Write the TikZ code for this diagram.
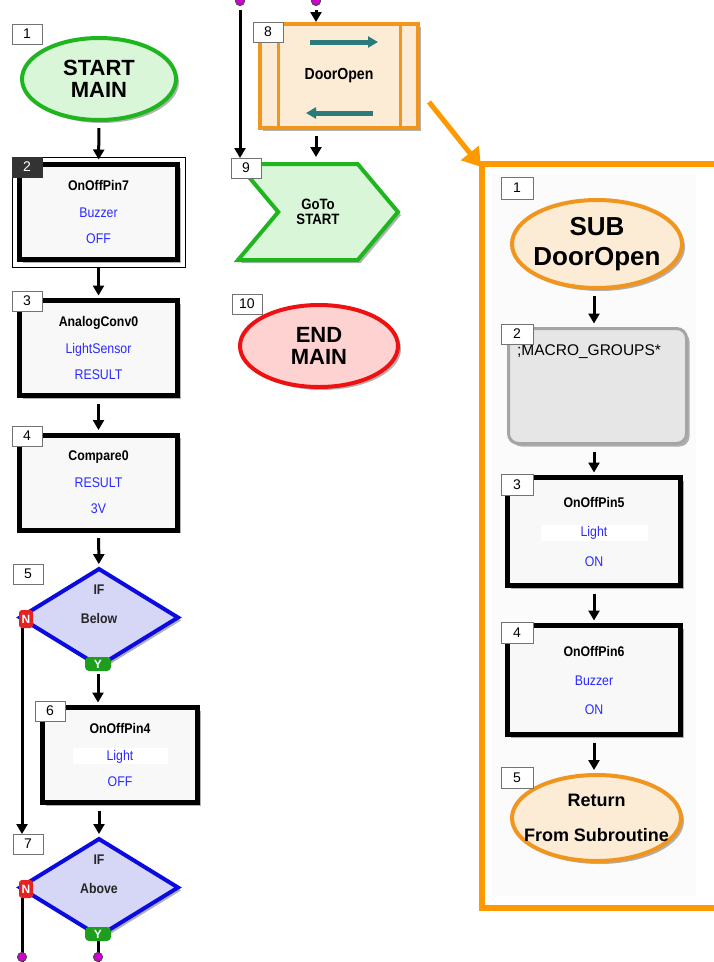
\documentclass[tikz,border=0pt]{standalone}
\usepackage{fontspec}
\setmainfont{Liberation Sans}
\newfontfamily\narrowsf[FakeStretch=0.88]{Liberation Sans}
\usetikzlibrary{shapes.geometric,shapes.symbols,arrows.meta,shadows}

\definecolor{startgreen}{HTML}{1FB51F}
\definecolor{startfill}{HTML}{D9F6D9}
\definecolor{endred}{HTML}{EE1111}
\definecolor{endfill}{HTML}{FFD2D2}
\definecolor{subline}{HTML}{F0951E}
\definecolor{subfill}{HTML}{FCEBD5}
\definecolor{ifblue}{HTML}{0B0BE0}
\definecolor{iffill}{HTML}{D6D6F7}
\definecolor{pinblue}{HTML}{2A2AFF}
\definecolor{boxfill}{HTML}{F8F8F8}
\definecolor{macfill}{HTML}{E6E6E6}
\definecolor{macline}{HTML}{A5A5A5}
\definecolor{linkorange}{HTML}{FF9900}
\definecolor{arrowteal}{HTML}{2C7B7B}
\definecolor{nred}{HTML}{E52222}
\definecolor{ygreen}{HTML}{1E9E1E}
\definecolor{dotpink}{HTML}{D000D0}

\newcommand{\fsz}[2]{\fontsize{#1}{#2}\selectfont}
\newcommand{\litband}[1]{{\setlength{\fboxsep}{1.5pt}\colorbox{white}{\makebox[#1]{\textcolor{pinblue}{Light}}}}}

\begin{document}
\begin{tikzpicture}
	[x=1pt,y=-1pt,
	 every node/.style={inner sep=0pt,outer sep=0pt},
	 shade/.style={drop shadow={shadow xshift=3pt,shadow yshift=-3pt,opacity=0.3,fill=black}},
	 numlab/.style={draw=black!55,fill=white,minimum width=30,minimum height=20,font=\fsz{14}{14}},
	 sellab/.style={numlab,draw=black!80,fill=black!80,text=white},
	 terminal/.style={ellipse,line width=4pt,shade},
	 termtext/.style={align=center,font=\bfseries\fsz{22}{22}},
	 cmdbox/.style={draw=black,line width=5pt,fill=boxfill,shade,minimum width=158,minimum height=95,
	                align=center,font=\narrowsf\fsz{14}{26.5}},
	 ifnode/.style={diamond,draw=ifblue,line width=4pt,fill=iffill,shade,minimum width=158,minimum height=97},
	 iftext/.style={align=center,font=\narrowsf\bfseries\fsz{14}{29},text=black!85},
	 nmark/.style={fill=nred,rounded corners=3pt,minimum width=14,minimum height=18,text=white,font=\bfseries\fsz{12}{12}},
	 ymark/.style={fill=ygreen,rounded corners=4pt,minimum width=26,minimum height=14,text=white,font=\bfseries\fsz{12}{12}},
	 pindot/.style={circle,fill=dotpink,draw=black!70,line width=0.8pt,minimum size=9},
	 flow/.style={black,line width=3pt,-{Triangle[width=11pt,length=10pt]},shorten <=8pt,shorten >=5pt},
	 sublink/.style={linkorange,line width=5pt,-{Triangle[width=22pt,length=18pt]}},
	 ]

\useasboundingbox (0,0) rectangle (714,962);

% main program, left column
\node [terminal,draw=startgreen,fill=startfill,minimum width=154,minimum height=82] (start1) at (99,79) {};
\node [termtext] (start1txt) at (start1) {START\\MAIN};
\node [numlab] (lab1) at (27,34) {1};

\node [cmdbox] (cmd2) at (98.5,212) {\textbf{OnOffPin7}\\\textcolor{pinblue}{Buzzer}\\\textcolor{pinblue}{OFF}};
\draw [black,line width=1pt] ([shift={(-7,-7)}]cmd2.north west) rectangle ([shift={(8,8)}]cmd2.south east);
\node [sellab] (lab2) at (27,167) {2};

\node [cmdbox] (cmd3) at (98.5,348) {\textbf{AnalogConv0}\\\textcolor{pinblue}{LightSensor}\\\textcolor{pinblue}{RESULT}};
\node [numlab] (lab3) at (27,301) {3};

\node [cmdbox] (cmd4) at (98.5,482.5) {\textbf{Compare0}\\\textcolor{pinblue}{RESULT}\\\textcolor{pinblue}{3V}};
\node [numlab] (lab4) at (27,436) {4};

\node [ifnode] (if5) at (99,617.5) {};
\node [iftext] (if5txt) at (99,604.5) {IF\\Below};
\node [numlab] (lab5) at (28,574) {5};
\node [nmark] (n5) at (26,619) {N};
\node [ymark] (y5) at (98,664) {Y};

\node [cmdbox,minimum width=155] (cmd6) at (120,755) {\textbf{OnOffPin4}\\\litband{92pt}\\\textcolor{pinblue}{OFF}};
\node [numlab] (lab6) at (50,711) {6};

\node [ifnode] (if7) at (99,887.5) {};
\node [iftext] (if7txt) at (99,874.5) {IF\\Above};
\node [numlab] (lab7) at (28,844) {7};
\node [nmark] (n7) at (26,889) {N};
\node [ymark] (y7) at (98,934) {Y};

\draw[flow] (start1) -- (cmd2);
\draw[flow] (cmd2) -- (cmd3);
\draw[flow] (cmd3) -- (cmd4);
\draw[flow] (cmd4) -- (if5);
\draw[flow,shorten <=3pt] (y5) -- (cmd6.north -| y5);
\draw[flow] (cmd6.south -| if7) -- (if7);
\draw[flow,shorten <=0pt,shorten >=0pt] ([xshift=-4]n5.south) -- ([xshift=-4]n5.south |- lab7.north);

\node [pindot] (dotn7) at (22,957) {};
\node [pindot] (doty7) at (98,957) {};
\draw[black,line width=3pt] ([xshift=-4]n7.south) -- (22,966);
\draw[black,line width=3pt] (y7.south) -- (98,966);
\node [pindot] at (dotn7) {};
\node [pindot] at (doty7) {};

% main program, second column
\node [pindot] (dottop9) at (240,1) {};
\node [pindot] (dottop8) at (316,1) {};

\node [draw=subline,line width=4pt,fill=subfill,shade,minimum width=158,minimum height=104,
       font=\narrowsf\bfseries\fsz{16}{16}] (mac8) at (339,76) {DoorOpen};
\draw [subline,line width=3pt] ([xshift=18]mac8.north west) -- ([xshift=18]mac8.south west);
\draw [subline,line width=3pt] ([xshift=-18]mac8.north east) -- ([xshift=-18]mac8.south east);
\draw [arrowteal,line width=5pt,-{Triangle[width=11pt,length=10pt]}] ([shift={(-29,-34)}]mac8.center) -- ([shift={(39,-34)}]mac8.center);
\draw [arrowteal,line width=5pt,-{Triangle[width=11pt,length=10pt]}] ([shift={(34,37)}]mac8.center) -- ([shift={(-33,37)}]mac8.center);
\node [numlab] (lab8) at (268,32) {8};

\node [signal,signal to=east,signal from=west,signal pointer angle=100,draw=startgreen,line width=4pt,
       fill=startfill,shade,minimum width=160,minimum height=96,align=center,
       font=\narrowsf\bfseries\fsz{15}{15}] (goto9) at (318,212) {GoTo\\START};
\node [numlab] (lab9) at (246,168) {9};

\node [terminal,draw=endred,fill=endfill,minimum width=158,minimum height=82] (end10) at (319,346) {};
\node [termtext] (end10txt) at (end10) {END\\MAIN};
\node [numlab] (lab10) at (247,304) {10};

\draw[flow,shorten <=4pt,shorten >=0pt] (dottop9) -- (dottop9 |- lab9.north);
\draw[flow,shorten <=4pt,shorten >=2pt] (dottop8) -- (dottop8 |- mac8.north);
\draw[flow,shorten >=7pt] (dottop8 |- mac8.south) -- (dottop8 |- goto9.north);
\node [pindot] at (dottop9) {};
\node [pindot] at (dottop8) {};

% subroutine panel
\fill [black!1.5] (492,174) rectangle (696,896);
\draw [linkorange,line width=6pt] (714,164) -- (482,164) -- (482,908) -- (714,908);
\draw [sublink] ([shift={(11,26)}]mac8.east) -- (481,167);

\node [terminal,draw=subline,fill=subfill,minimum width=170,minimum height=88] (sub1) at (597,244) {};
\node [termtext,font=\bfseries\fsz{26}{30}] (sub1txt) at (sub1) {SUB\\DoorOpen};
\node [numlab,minimum width=32,minimum height=22] (subl1) at (517,188) {1};

\node [draw=macline,line width=3pt,fill=macfill,rounded corners=10pt,shade,minimum width=178,minimum height=115] (macro2) at (597.5,386) {};
\node [font=\fsz{15.5}{15.5}] (macro2txt) at (589,352) {;MACRO\_GROUPS*};
\node [numlab,minimum width=32,minimum height=20] (subl2) at (517,334) {2};

\node [cmdbox,minimum width=173,minimum height=108,font=\narrowsf\fsz{14}{29.5}] (rcmd3) at (594,531.5) {\textbf{OnOffPin5}\\\litband{104pt}\\\textcolor{pinblue}{ON}};
\node [numlab,minimum width=32,minimum height=21] (subl3) at (517,485) {3};

\node [cmdbox,minimum width=173,minimum height=109,font=\narrowsf\fsz{14}{29}] (rcmd4) at (594,680) {\textbf{OnOffPin6}\\\textcolor{pinblue}{Buzzer}\\\textcolor{pinblue}{ON}};
\node [numlab,minimum width=32,minimum height=21] (subl4) at (517,633) {4};

\node [terminal,draw=subline,fill=subfill,minimum width=169,minimum height=86] (ret5) at (596.5,818) {};
\node [termtext,font=\bfseries\fsz{18}{35}] (ret5txt) at (ret5) {Return\\From Subroutine};
\node [numlab,minimum width=32,minimum height=21] (subl5) at (517,778) {5};

\draw[flow] (sub1.south -| rcmd3) -- (macro2.north -| rcmd3);
\draw[flow] (macro2.south -| rcmd3) -- (rcmd3);
\draw[flow] (rcmd3) -- (rcmd4);
\draw[flow] (rcmd4.south) -- (ret5.north -| rcmd4);

\end{tikzpicture}
\end{document}
